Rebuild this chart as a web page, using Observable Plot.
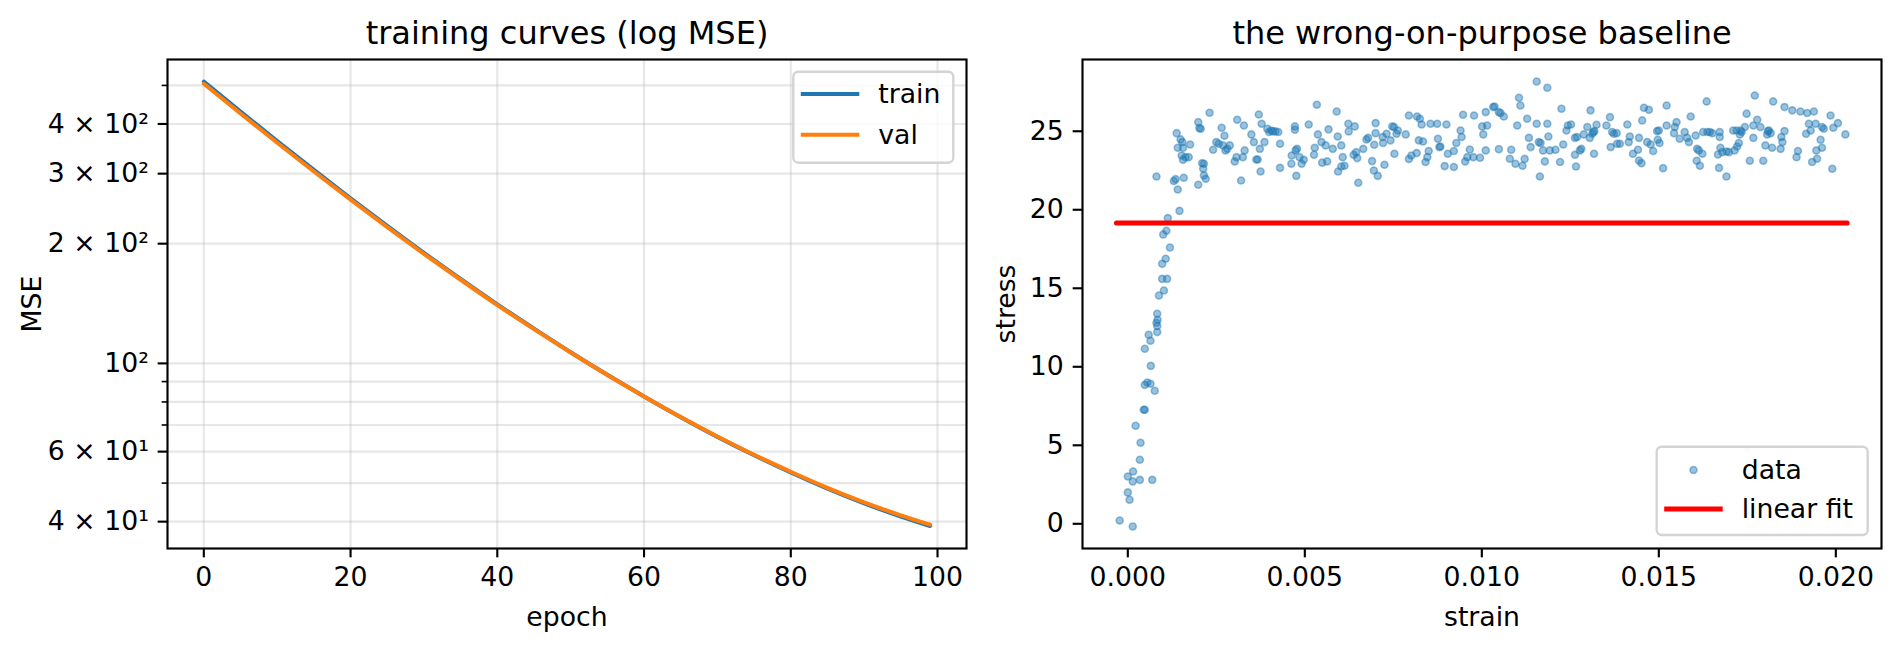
<!DOCTYPE html>
<html>
<head>
<meta charset="utf-8">
<script src="https://cdn.jsdelivr.net/npm/d3@7"></script>
<script src="https://cdn.jsdelivr.net/npm/@observablehq/plot@0.6"></script>
<style>
  body { margin: 0; background: #fff; }
  #fig { position: relative; width: 1899px; height: 651px; background: #fff; font-family: "DejaVu Sans"; overflow: hidden; }
  #left, #right { position: absolute; top: 0; }
  #left { left: 0; width: 1000px; }
  #right { left: 1000px; width: 899px; }
  #fig svg { max-width: none !important; display: block; }
</style>
</head>
<body>
<div id="fig"><div id="left"></div><div id="right"></div></div>
<script>
// ---------- Left panel data: training curves ----------
const epochs   = [0, 5, 10, 15, 20, 25, 30, 35, 40, 45, 50, 55, 60, 65, 70, 75, 80, 85, 90, 95, 99];
const trainMSE = [511, 429.7, 362.4, 306.6, 260.2, 221.8, 189.7, 163.1, 140.8, 122.3, 106.7, 93.6, 82.6, 73.25, 65.35, 58.75, 53.17, 48.41, 44.46, 41.21, 39.0];
const valMSE   = [504.9, 425.0, 358.8, 303.8, 258.1, 220.2, 188.6, 162.3, 140.2, 121.9, 106.5, 93.5, 82.6, 73.3, 65.5, 58.9, 53.4, 48.65, 44.73, 41.5, 39.3];
const epochTicks = [0, 20, 40, 60, 80, 100];
const mseMajorTicks = [40, 60, 100, 200, 300, 400];
const mseMajorLabels = ["4 × 10¹", "6 × 10¹", "10²", "2 × 10²", "3 × 10²", "4 × 10²"];
const mseMinorTicks = [50, 70, 80, 90, 500];

// ---------- Right panel data: stress-strain scatter ----------
const strainRise = [-0.00023,0.00014,0.00000,0.00005,0.00000,0.00014,0.00015,0.00034,0.00069,0.00034,
  0.00036,0.00022,0.00045,0.00048,0.00048,0.00055,0.00064,0.00076,0.00065,0.00048,
  0.00064,0.00059,0.00083,0.00083,0.00081,0.00084,0.00083,0.00088,0.00102,0.00097,0.00111,0.00097];
const stressRise = [0.21,-0.17,2.00,1.53,3.01,2.70,3.33,2.80,2.80,4.08,
  5.16,6.24,7.26,7.26,8.85,9.00,8.92,8.47,10.06,11.15,
  11.66,12.04,12.21,12.60,12.80,13.00,13.38,14.54,14.86,15.60,15.60,16.56];

const strainMid = [0.00081,0.00130,0.00135,0.00141,0.00146,0.00113,0.00109,0.00100,0.00119,0.00107,
  0.00138,0.00141,0.00149,0.00154,0.00156,0.00152,0.00156,0.00163,0.00172,0.00176,
  0.00158,0.00199,0.00202,0.00206,0.00231,0.00199,0.00210,0.00215,0.00213,0.00215,
  0.00220,0.00241,0.00250,0.00257,0.00265,0.00273,0.00269,0.00276,0.00281,0.00288,
  0.00302,0.00307,0.00309,0.00320,0.00328,0.00330,0.00325,0.00349,0.00356,0.00363,
  0.00367,0.00370,0.00378,0.00375,0.00373,0.00386,0.00394,0.00399,0.00405,0.00410,
  0.00417,0.00425,0.00430,0.00430,0.00462,0.00463,0.00472,0.00472,0.00474,0.00478,
  0.00476,0.00485,0.00491,0.00497,0.00511,0.00526,0.00528,0.00534,0.00537,0.00547,
  0.00549,0.00559,0.00563,0.00567,0.00579,0.00590,0.00593,0.00594,0.00603,0.00607,
  0.00603,0.00612,0.00623,0.00624,0.00641,0.00638,0.00648,0.00651,0.00645,0.00665,
  0.00674,0.00679,0.00690,0.00695,0.00696,0.00700,0.00706,0.00700,0.00720,0.00725,
  0.00721,0.00731,0.00742,0.00747,0.00752,0.00753,0.00759,0.00763,0.00785,0.00794,
  0.00794,0.00801,0.00816,0.00817,0.00822,0.00825,0.00830,0.00834,0.00841,0.00846,
  0.00850,0.00855,0.00874,0.00876,0.00880,0.00883,0.00895,0.00900,0.00904,0.00921,
  0.00921,0.00928,0.00940,0.00943,0.00947,0.00953,0.00959,0.00966,0.00978,0.00976,
  0.00995,0.01001,0.01004,0.01011,0.01011,0.01015];
const stressMid = [22.12,21.83,21.95,21.29,19.93,19.47,18.66,18.43,17.60,16.88,
  24.88,23.95,24.48,24.31,23.95,23.46,23.18,23.35,23.35,24.16,
  22.04,25.58,25.20,25.16,26.18,21.59,22.97,22.93,22.61,22.19,
  21.97,23.82,24.31,24.20,25.22,24.71,24.10,23.78,23.88,24.10,
  23.08,23.35,25.73,21.86,25.37,23.78,23.35,24.80,24.31,23.20,
  23.20,26.07,25.48,22.44,23.88,24.31,25.16,24.95,25.05,24.99,
  24.99,24.95,24.20,22.67,22.93,23.46,25.31,25.10,23.78,23.88,
  22.16,23.35,22.93,23.18,25.43,23.50,23.95,26.69,24.80,24.31,
  23.00,24.10,23.08,25.12,23.88,26.26,24.67,22.44,24.10,23.35,
  22.76,22.80,25.48,24.99,25.31,23.50,23.29,21.72,23.67,23.88,
  24.48,24.58,23.10,22.50,24.14,25.52,22.16,24.88,24.63,22.87,
  24.25,24.84,24.42,25.31,25.27,23.57,24.84,25.05,24.80,26.00,
  23.24,23.46,23.61,25.94,24.42,25.80,25.43,24.35,23.04,23.35,
  23.74,25.48,25.48,24.52,23.99,24.03,22.78,25.43,23.57,22.72,
  23.74,24.25,25.05,24.63,26.05,23.08,23.35,23.84,26.00,23.35,
  23.31,25.31,24.80,26.22,23.78,25.37];

const strainEnd = [0.01032,0.01036,0.01048,0.01053,0.01062,0.01048,0.01083,0.01079,0.01095,0.01100,
  0.01105,0.01109,0.01115,0.01121,0.01128,0.01133,0.01138,0.01155,0.01155,0.01161,
  0.01166,0.01164,0.01173,0.01178,0.01185,0.01185,0.01188,0.01192,0.01208,0.01221,
  0.01225,0.01230,0.01239,0.01243,0.01252,0.01263,0.01266,0.01263,0.01269,0.01277,
  0.01281,0.01288,0.01298,0.01305,0.01307,0.01312,0.01315,0.01318,0.01317,0.01324,
  0.01352,0.01362,0.01364,0.01368,0.01373,0.01381,0.01382,0.01390,0.01411,0.01415,
  0.01418,0.01427,0.01441,0.01444,0.01444,0.01451,0.01453,0.01458,0.01467,0.01472,
  0.01477,0.01484,0.01495,0.01500,0.01497,0.01502,0.01512,0.01522,0.01522,0.01543,
  0.01545,0.01550,0.01559,0.01573,0.01580,0.01585,0.01590,0.01604,0.01607,0.01608,
  0.01613,0.01616,0.01623,0.01625,0.01635,0.01637,0.01644,0.01651,0.01667,0.01670,
  0.01672,0.01672,0.01674,0.01679,0.01691,0.01691,0.01698,0.01710,0.01714,0.01720,
  0.01721,0.01726,0.01729,0.01731,0.01734,0.01743,0.01748,0.01757,0.01767,0.01767,
  0.01771,0.01778,0.01787,0.01795,0.01801,0.01806,0.01808,0.01811,0.01816,0.01820,
  0.01823,0.01844,0.01846,0.01849,0.01855,0.01855,0.01877,0.01889,0.01893,0.01900,
  0.01916,0.01919,0.01924,0.01929,0.01933,0.01938,0.01943,0.01945,0.01947,0.01957,
  0.01961,0.01961,0.01966,0.01985,0.01990,0.01993,0.02006,0.02027];
const stressEnd = [26.54,26.58,26.22,26.16,25.94,23.86,23.82,23.25,22.93,25.37,
  27.13,26.64,22.80,23.24,25.80,24.58,23.99,28.17,25.48,24.31,
  24.25,22.12,23.78,23.08,27.77,25.48,24.67,23.78,23.82,23.04,
  26.43,24.16,25.05,25.37,25.43,24.58,22.76,23.50,24.63,23.78,
  23.88,24.80,25.27,24.58,26.33,24.84,24.95,25.01,23.57,25.41,
  25.37,25.90,23.99,24.95,24.84,24.88,24.20,24.20,25.43,24.31,
  24.67,23.57,23.82,24.58,23.14,22.97,25.69,26.50,24.31,26.37,
  24.16,23.74,25.01,25.05,24.46,24.25,22.65,26.64,25.37,24.88,
  25.27,25.58,24.52,24.95,24.58,24.31,25.94,24.73,23.12,23.88,
  23.78,22.80,23.57,24.95,26.90,24.95,24.95,24.88,23.52,22.67,
  24.95,24.63,23.95,23.67,23.71,22.12,23.67,25.05,23.78,25.05,
  24.03,24.25,24.80,25.05,24.95,25.27,26.12,23.12,24.58,25.37,
  27.28,25.73,25.27,23.12,24.10,24.80,25.01,25.05,24.88,23.95,
  26.90,23.88,24.63,24.31,25.01,26.54,26.33,23.35,23.74,26.26,
  24.84,26.16,25.48,25.05,23.04,26.26,25.48,23.78,23.25,24.46,
  23.95,25.27,25.16,26.00,22.61,25.22,25.52,24.80];

const fitStrain = [-0.00032, 0.02032];
const fitStress = [19.15, 19.15];
const strainTicks = [0, 0.005, 0.010, 0.015, 0.020];
const strainTickLabels = ["0.000", "0.005", "0.010", "0.015", "0.020"];
const stressTicks = [0, 5, 10, 15, 20, 25];

// ---------- build tables ----------
const trainRows = epochs.map((e, i) => ({epoch: e, mse: trainMSE[i]}));
const valRows = epochs.map((e, i) => ({epoch: e, mse: valMSE[i]}));
const allStrain = strainRise.concat(strainMid, strainEnd);
const allStress = stressRise.concat(stressMid, stressEnd);
const n = Math.min(allStrain.length, allStress.length);
const points = d3.range(n).map(i => ({strain: allStrain[i], stress: allStress[i]}));
const fitRows = fitStrain.map((s, i) => ({strain: s, stress: fitStress[i]}));

// ---------- styling constants ----------
const FS = 26.7, TITLE_FS = 32;
const TICK = 9.33, PAD = 9.33, SPINE = 2.13;
const BLUE = "#1f77b4", ORANGE = "#ff7f0e";
const gridStyle = {stroke: "#b0b0b0", strokeOpacity: 0.3, strokeWidth: 2.13};
const baseStyle = {fontFamily: "DejaVu Sans", fontSize: FS + "px", background: "transparent", color: "black", overflow: "visible"};

const left = Plot.plot({
  width: 1000, height: 651,
  marginLeft: 167, marginRight: 34, marginTop: 59, marginBottom: 103,
  style: baseStyle,
  x: {domain: [-4.95, 103.95]},
  y: {type: "log", domain: [34.24, 581]},
  marks: [
    Plot.gridX(epochTicks, gridStyle),
    Plot.gridY(mseMajorTicks.concat(mseMinorTicks), gridStyle),
    Plot.line(trainRows, {x: "epoch", y: "mse", stroke: BLUE, strokeWidth: 4, curve: "monotone-x"}),
    Plot.line(valRows, {x: "epoch", y: "mse", stroke: ORANGE, strokeWidth: 4, curve: "monotone-x"}),
    Plot.frame({stroke: "black", strokeWidth: SPINE}),
    Plot.axisX(epochTicks, {tickSize: TICK, tickPadding: PAD, strokeWidth: SPINE, label: null, tickFormat: d => String(d)}),
    Plot.axisY(mseMajorTicks, {tickSize: TICK, tickPadding: PAD, strokeWidth: SPINE, label: null,
      tickFormat: d => mseMajorLabels[mseMajorTicks.indexOf(d)]}),
    Plot.axisY(mseMinorTicks, {tickSize: 5.33, tickPadding: PAD, strokeWidth: 1.6, label: null, tickFormat: () => ""}),
    Plot.text(["training curves (log MSE)"], {text: d => d, frameAnchor: "top", dy: -16, lineAnchor: "bottom", textAnchor: "middle", fontSize: TITLE_FS}),
    Plot.text(["epoch"], {text: d => d, frameAnchor: "bottom", dy: 77, lineAnchor: "bottom", textAnchor: "middle", fontSize: FS}),
    Plot.text(["MSE"], {text: d => d, frameAnchor: "left", dx: -127, rotate: -90, lineAnchor: "bottom", textAnchor: "middle", fontSize: FS})
  ]
});
document.getElementById("left").appendChild(left);

const right = Plot.plot({
  width: 899, height: 651,
  marginLeft: 82, marginRight: 18, marginTop: 59, marginBottom: 103,
  style: baseStyle,
  x: {domain: [-0.00128, 0.02129]},
  y: {domain: [-1.573, 29.57]},
  marks: [
    Plot.dot(points, {x: "strain", y: "stress", r: 3.5, fill: BLUE, fillOpacity: 0.45, stroke: BLUE, strokeOpacity: 0.45, strokeWidth: 1.6}),
    Plot.line(fitRows, {x: "strain", y: "stress", stroke: "red", strokeWidth: 5}),
    Plot.frame({stroke: "black", strokeWidth: SPINE}),
    Plot.axisX(strainTicks, {tickSize: TICK, tickPadding: PAD, strokeWidth: SPINE, label: null,
      tickFormat: d => strainTickLabels[strainTicks.indexOf(d)]}),
    Plot.axisY(stressTicks, {tickSize: TICK, tickPadding: PAD, strokeWidth: SPINE, label: null, tickFormat: d => String(d)}),
    Plot.text(["the wrong-on-purpose baseline"], {text: d => d, frameAnchor: "top", dy: -16, lineAnchor: "bottom", textAnchor: "middle", fontSize: TITLE_FS}),
    Plot.text(["strain"], {text: d => d, frameAnchor: "bottom", dy: 77, lineAnchor: "bottom", textAnchor: "middle", fontSize: FS}),
    Plot.text(["stress"], {text: d => d, frameAnchor: "left", dx: -68, rotate: -90, lineAnchor: "bottom", textAnchor: "middle", fontSize: FS})
  ]
});
document.getElementById("right").appendChild(right);

// ---------- legends (matplotlib-style boxes) ----------
function drawLegend(svg, box, items) {
  const g = d3.select(svg).append("g")
    .attr("font-family", "DejaVu Sans").attr("font-size", FS).attr("text-anchor", "start");
  g.append("rect").attr("x", box.x).attr("y", box.y).attr("width", box.w).attr("height", box.h)
    .attr("rx", 5).attr("ry", 5).attr("fill", "white").attr("fill-opacity", 0.8)
    .attr("stroke", "#cccccc").attr("stroke-opacity", 0.85).attr("stroke-width", 2.4);
  items.forEach((it, i) => {
    const cy = box.y + box.first + i * box.step;
    const hx0 = box.x + 7.5, hx1 = box.x + 66;
    if (it.type === "line") {
      g.append("line").attr("x1", hx0).attr("x2", hx1).attr("y1", cy).attr("y2", cy)
        .attr("stroke", it.color).attr("stroke-width", it.width);
    } else {
      g.append("circle").attr("cx", (hx0 + hx1) / 2).attr("cy", cy).attr("r", 3.5)
        .attr("fill", it.color).attr("fill-opacity", 0.45)
        .attr("stroke", it.color).attr("stroke-opacity", 0.45).attr("stroke-width", 1.6);
    }
    g.append("text").attr("x", box.x + 85).attr("y", cy).attr("dy", "0.35em")
      .attr("text-anchor", "start").attr("fill", "black").text(it.label);
  });
}
drawLegend(left, {x: 793.3, y: 71.7, w: 160, h: 91, first: 22.3, step: 40.7},
  [{type: "line", color: BLUE, width: 4, label: "train"}, {type: "line", color: ORANGE, width: 4, label: "val"}]);
drawLegend(right, {x: 656.7, y: 446.7, w: 211, h: 88.3, first: 23.3, step: 39},
  [{type: "dot", color: BLUE, label: "data"}, {type: "line", color: "red", width: 5, label: "linear fit"}]);
</script>
</body>
</html>
